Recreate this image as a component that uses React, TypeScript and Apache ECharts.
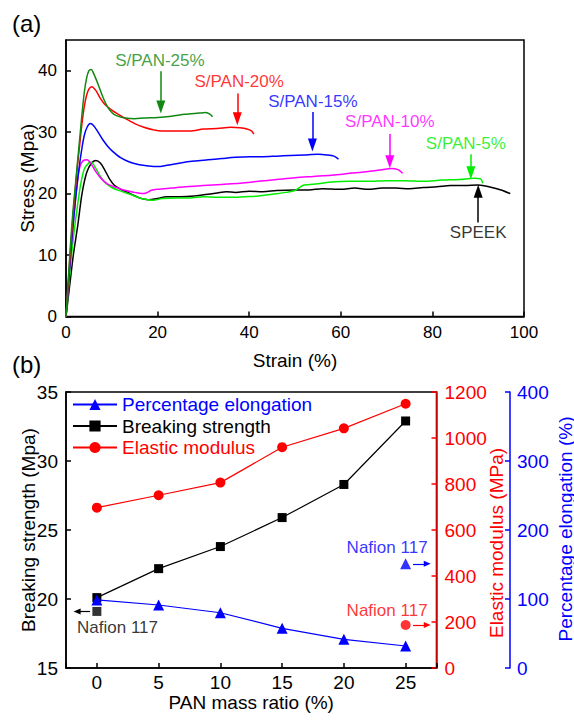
import React, { useEffect, useRef } from 'react';
import * as echarts from 'echarts';

const FONT = '"Liberation Sans", Arial, Helvetica, sans-serif';

// ---------- (a) stress-strain curves [strain %, stress MPa] ----------
const curveSPEEK = [[0,0],[0.8,5],[1.6,10],[2.6,15],[3.5,20],[4.5,23.4],[5.5,24.9],[6.5,25.4],[7.5,25.0],[8.5,23.8],[9.5,22.4],[10.5,21.4],[12,20.7],[14,20.0],[16,19.3],[18,19.0],[20,19.2],[22,19.5],[25,19.5],[28,19.6],[30,19.8],[33,20.1],[35,20.3],[37,20.2],[40,20.4],[43,20.3],[46,20.5],[50,20.6],[53,20.6],[56,20.8],[60,20.7],[63,20.9],[66,20.7],[69,20.9],[72,20.9],[75,20.8],[78,21.0],[81,21.1],[84,21.3],[87,21.3],[90,21.4],[93,21.0],[95,20.6],[97,20.0]];
const curvePAN5 = [[0,0],[0.6,5],[1.2,10],[1.8,14],[2.5,18],[3.2,21.5],[4,24],[5,25],[5.5,25.1],[6.5,24.1],[7.5,22.8],[8.5,21.8],[10,21.0],[12,20.4],[14,19.9],[16,19.3],[18,19.0],[19,18.9],[21,19.2],[24,19.3],[27,19.3],[30,19.5],[33,19.4],[36,19.4],[39,19.5],[42,19.6],[45,19.9],[48,20.2],[50,20.5],[51,21.0],[52,21.4],[55,21.6],[58,21.9],[62,22.0],[66,22.0],[70,22.1],[74,22.1],[78,22.0],[82,22.2],[86,22.3],[89,22.5],[90.5,22.4],[91,21.7]];
const curvePAN10 = [[0,0],[0.5,5],[1,10],[1.5,14.5],[2,18.5],[2.5,22],[3,24.3],[3.8,25.4],[4.6,25.5],[5.5,24.8],[6.5,23.6],[7.5,22.6],[9,21.6],[11,21.0],[13,20.5],[15,20.2],[16.5,20.0],[17.5,20.1],[18.5,20.5],[20,20.7],[23,20.9],[26,21.1],[30,21.3],[34,21.5],[38,21.7],[42,22.0],[46,22.3],[50,22.6],[54,22.8],[58,23.0],[62,23.3],[66,23.6],[69,23.9],[71,24.1],[72.5,23.9],[73.5,23.3]];
const curvePAN15 = [[0,0],[0.5,5],[1,10],[1.5,14.5],[2,18.5],[2.5,22],[3,25],[3.5,27.5],[4,29.5],[4.6,30.8],[5.3,31.4],[6,31.1],[7,30.0],[8,28.8],[9,27.8],[10,27.0],[12,25.8],[14,25.1],[16,24.7],[18,24.5],[20,24.4],[22,24.6],[25,25.0],[28,25.3],[31,25.5],[34,25.7],[37,25.9],[40,26.0],[43,26.0],[46,26.1],[49,26.2],[52,26.3],[55,26.4],[57,26.3],[58.5,26.1],[59.5,25.6]];
const curvePAN20 = [[0,0],[0.5,5.5],[1,11],[1.5,16],[2,20.5],[2.5,24.5],[3,28],[3.5,31.5],[4,34.2],[4.5,36],[5,37],[5.6,37.4],[6.5,36.8],[7.5,35.5],[8.5,34.5],[10,33.6],[11,33.1],[13,32.2],[15,31.4],[17,30.8],[19,30.4],[21,30.2],[24,30.2],[27,30.2],[30,30.5],[33,30.6],[36,30.8],[38,30.7],[39.5,30.5],[40.5,30.2],[41,29.7]];
const curvePAN25 = [[0,0],[0.5,6],[1,12],[1.5,17],[2,21],[2.5,25],[3,29],[3.5,33],[4,36.5],[4.5,38.8],[5,40],[5.5,40.2],[6,39.6],[7,37.8],[8,35.8],[9,34.2],[10,33.2],[11,32.7],[13,32.3],[15,32.2],[17,32.3],[20,32.4],[23,32.6],[26,32.9],[29,33.1],[30.5,33.2],[31.5,32.9],[32,32.5]];

const curveNames = ['SPEEK', 'S/PAN-5%', 'S/PAN-10%', 'S/PAN-15%', 'S/PAN-20%', 'S/PAN-25%'];
const curveColors = ['#000000', '#00ee00', '#ff00ff', '#0000ff', '#ff0000', '#118811'];
const curves = [curveSPEEK, curvePAN5, curvePAN10, curvePAN15, curvePAN20, curvePAN25];
// annotation label position [x, y] and arrow [x, yFrom, yTo]
const curveLabelPos = [[90, 13.6], [87.3, 28.1], [70.7, 31.7], [53.9, 35.0], [37.8, 38.3], [20.5, 41.7]];
const curveArrows = [[90, 15.3, 20.4], [88.4, 26.4, 23.4], [70.7, 29.7, 25.2], [53.8, 33.3, 27.9], [37.4, 36.3, 32.2], [20.7, 39.9, 34.1]];

// ---------- (b) properties vs PAN mass ratio ----------
const panRatio = [0, 5, 10, 15, 20, 25];
const breakingStrength = [20.1, 22.2, 23.8, 25.9, 28.3, 32.9];
const elasticModulus = [697, 751, 806, 960, 1042, 1149];
const percentElongation = [98.6, 91.3, 80.1, 57.5, 41.6, 31.9];
const nafionBreaking = 19.1;
const nafionModulus = 187;
const nafionElongation = 151;

const BLACK = '#000';
const RED = '#ff0000';
const BLUE = '#0000ff';

function zip(xs: number[], ys: number[]) {
  return xs.map((x, i) => [x, ys[i]]);
}

function labelSeries(name: string, xi: number, yi: number, pos: number[], text: string, color: string, size: number) {
  return {
    name,
    type: 'scatter',
    xAxisIndex: xi,
    yAxisIndex: yi,
    symbolSize: 1,
    itemStyle: { color: 'rgba(0,0,0,0)' },
    silent: true,
    z: 5,
    data: [pos],
    label: {
      show: true,
      position: 'inside',
      formatter: text,
      color,
      fontFamily: FONT,
      fontSize: size,
    },
  };
}

function arrowLine(from: number[], to: number[], color: string, size: number[], width: number) {
  return {
    silent: true,
    animation: false,
    symbol: ['none', 'triangle'],
    symbolSize: size,
    label: { show: false },
    lineStyle: { color, width, type: 'solid' },
    emphasis: { disabled: true },
    data: [[{ coord: from }, { coord: to }]],
  };
}

export default function App() {
  const ref = useRef<HTMLDivElement>(null);

  useEffect(() => {
    document.body.style.margin = '0';
    if (!ref.current) return;
    const chart = echarts.init(ref.current, null, { renderer: 'svg' });

    const axisBase = (color: string, fs: number) => ({
      axisLine: { show: true, onZero: false, lineStyle: { color, width: 1.5 } },
      axisTick: { show: true, inside: true, length: 5, lineStyle: { color, width: 1.5 } },
      splitLine: { show: false },
      axisLabel: { color, fontFamily: FONT, fontSize: fs },
      nameTextStyle: { color, fontFamily: FONT, fontSize: 19 },
      nameLocation: 'middle',
      nameMoveOverlap: false,
    });

    const series: any[] = [];
    curves.forEach((c, i) => {
      const a = curveArrows[i];
      series.push({
        name: curveNames[i],
        type: 'line',
        xAxisIndex: 0,
        yAxisIndex: 0,
        data: c,
        showSymbol: false,
        symbol: 'none',
        smooth: 0.3,
        lineStyle: { color: curveColors[i], width: 1.5 },
        itemStyle: { color: curveColors[i] },
        markLine: arrowLine([a[0], a[1]], [a[0], a[2]], curveColors[i], [9, 13], 1.5),
        z: 3,
      });
      series.push(labelSeries('lbl' + i, 0, 0, curveLabelPos[i], curveNames[i], curveColors[i], 17));
    });

    series.push({
      name: 'Percentage elongation',
      type: 'line',
      xAxisIndex: 1,
      yAxisIndex: 3,
      data: zip(panRatio, percentElongation),
      symbol: 'triangle',
      symbolSize: 11,
      lineStyle: { color: BLUE, width: 1.2 },
      itemStyle: { color: BLUE },
      z: 4,
    });
    series.push({
      name: 'Breaking strength',
      type: 'line',
      xAxisIndex: 1,
      yAxisIndex: 1,
      data: zip(panRatio, breakingStrength),
      symbol: 'rect',
      symbolSize: 9,
      lineStyle: { color: BLACK, width: 1.2 },
      itemStyle: { color: BLACK },
      z: 3,
    });
    series.push({
      name: 'Elastic modulus',
      type: 'line',
      xAxisIndex: 1,
      yAxisIndex: 2,
      data: zip(panRatio, elasticModulus),
      symbol: 'circle',
      symbolSize: 10,
      lineStyle: { color: RED, width: 1.2 },
      itemStyle: { color: RED },
      z: 3,
    });
    // Nafion 117 reference points
    series.push({
      name: 'Nafion BS',
      type: 'scatter',
      xAxisIndex: 1,
      yAxisIndex: 1,
      data: [[0, nafionBreaking]],
      symbol: 'rect',
      symbolSize: 9,
      itemStyle: { color: BLACK },
      markLine: arrowLine([-0.55, nafionBreaking], [-1.6, nafionBreaking], BLACK, [6, 7], 1.2),
    });
    series.push({
      name: 'Nafion EM',
      type: 'scatter',
      xAxisIndex: 1,
      yAxisIndex: 2,
      data: [[25, nafionModulus]],
      symbol: 'circle',
      symbolSize: 10,
      itemStyle: { color: RED },
      markLine: arrowLine([25.6, nafionModulus], [26.75, nafionModulus], RED, [6, 7], 1.2),
    });
    series.push({
      name: 'Nafion PE',
      type: 'scatter',
      xAxisIndex: 1,
      yAxisIndex: 3,
      data: [[25, nafionElongation]],
      symbol: 'triangle',
      symbolSize: 11,
      itemStyle: { color: BLUE },
      markLine: arrowLine([25.6, nafionElongation], [26.75, nafionElongation], BLUE, [6, 7], 1.2),
    });
    series.push(labelSeries('nlb1', 1, 1, [1.67, 17.9], 'Nafion 117', BLACK, 17));
    series.push(labelSeries('nlb2', 1, 2, [23.5, 249], 'Nafion 117', RED, 17));
    series.push(labelSeries('nlb3', 1, 3, [23.5, 174], 'Nafion 117', BLUE, 17));

    chart.setOption({
      animation: false,
      backgroundColor: '#fff',
      textStyle: { fontFamily: FONT },
      grid: [
        { left: 66, top: 40, width: 458, height: 276.5, show: true, borderColor: BLACK, borderWidth: 1.5, backgroundColor: 'transparent' },
        { left: 66, top: 392, width: 370.5, height: 276, show: true, borderColor: BLACK, borderWidth: 1.5, backgroundColor: 'transparent' },
      ],
      legend: {
        left: 72,
        top: 395,
        orient: 'vertical',
        padding: 0,
        itemWidth: 44,
        itemHeight: 14,
        itemGap: 2.5,
        selectedMode: false,
        textStyle: { fontFamily: FONT, fontSize: 19 },
        data: [
          { name: 'Percentage elongation', textStyle: { color: BLUE } },
          { name: 'Breaking strength', textStyle: { color: BLACK } },
          { name: 'Elastic modulus', textStyle: { color: RED } },
        ],
      },
      graphic: [
        { type: 'text', left: 12, top: 11, style: { text: '(a)', fontFamily: FONT, fontSize: 24, fill: BLACK } },
        { type: 'text', left: 12, top: 352, style: { text: '(b)', fontFamily: FONT, fontSize: 24, fill: BLACK } },
        {
          type: 'text', x: 496, y: 543, rotation: Math.PI / 2,
          style: { text: 'Elastic modulus (MPa)', fontFamily: FONT, fontSize: 19, fill: RED, align: 'center', verticalAlign: 'middle' },
        },
        {
          type: 'text', x: 565, y: 529, rotation: Math.PI / 2,
          style: { text: 'Percentage elongation (%)', fontFamily: FONT, fontSize: 19, fill: BLUE, align: 'center', verticalAlign: 'middle' },
        },
      ],
      xAxis: [
        {
          ...axisBase(BLACK, 17),
          type: 'value',
          gridIndex: 0,
          min: 0,
          max: 100,
          interval: 20,
          name: 'Strain (%)',
          nameGap: 34,
          axisLabel: { color: BLACK, fontFamily: FONT, fontSize: 17, margin: 7 },
        },
        {
          ...axisBase(BLACK, 19),
          type: 'value',
          gridIndex: 1,
          min: -2.5,
          max: 27.5,
          splitNumber: 6,
          name: 'PAN mass ratio (%)',
          nameGap: 25,
          axisLabel: {
            color: BLACK,
            fontFamily: FONT,
            fontSize: 19,
            margin: 5,
            formatter: (v: number) => (Math.abs(v % 5) < 1e-6 ? String(v) : ''),
          },
        },
      ],
      yAxis: [
        {
          ...axisBase(BLACK, 17),
          type: 'value',
          gridIndex: 0,
          min: 0,
          max: 45,
          interval: 10,
          name: 'Stress (Mpa)',
          nameGap: 29,
          axisLabel: { color: BLACK, fontFamily: FONT, fontSize: 17, margin: 9, showMaxLabel: false },
        },
        {
          ...axisBase(BLACK, 19),
          type: 'value',
          gridIndex: 1,
          min: 15,
          max: 35,
          interval: 5,
          name: 'Breaking strength (Mpa)',
          nameGap: 28,
          axisLabel: { color: BLACK, fontFamily: FONT, fontSize: 19, margin: 8 },
        },
        {
          ...axisBase(RED, 19),
          type: 'value',
          gridIndex: 1,
          position: 'right',
          min: 0,
          max: 1200,
          interval: 200,
          axisLabel: { color: RED, fontFamily: FONT, fontSize: 19, margin: 8, formatter: (v: number) => String(v) },
        },
        {
          ...axisBase(BLUE, 19),
          type: 'value',
          gridIndex: 1,
          position: 'right',
          offset: 73.5,
          min: 0,
          max: 400,
          interval: 100,
          axisLabel: { color: BLUE, fontFamily: FONT, fontSize: 19, margin: 7, formatter: (v: number) => String(v) },
        },
      ],
      series,
    });

    return () => chart.dispose();
  }, []);

  return <div ref={ref} style={{ width: 574, height: 722 }} />;
}
